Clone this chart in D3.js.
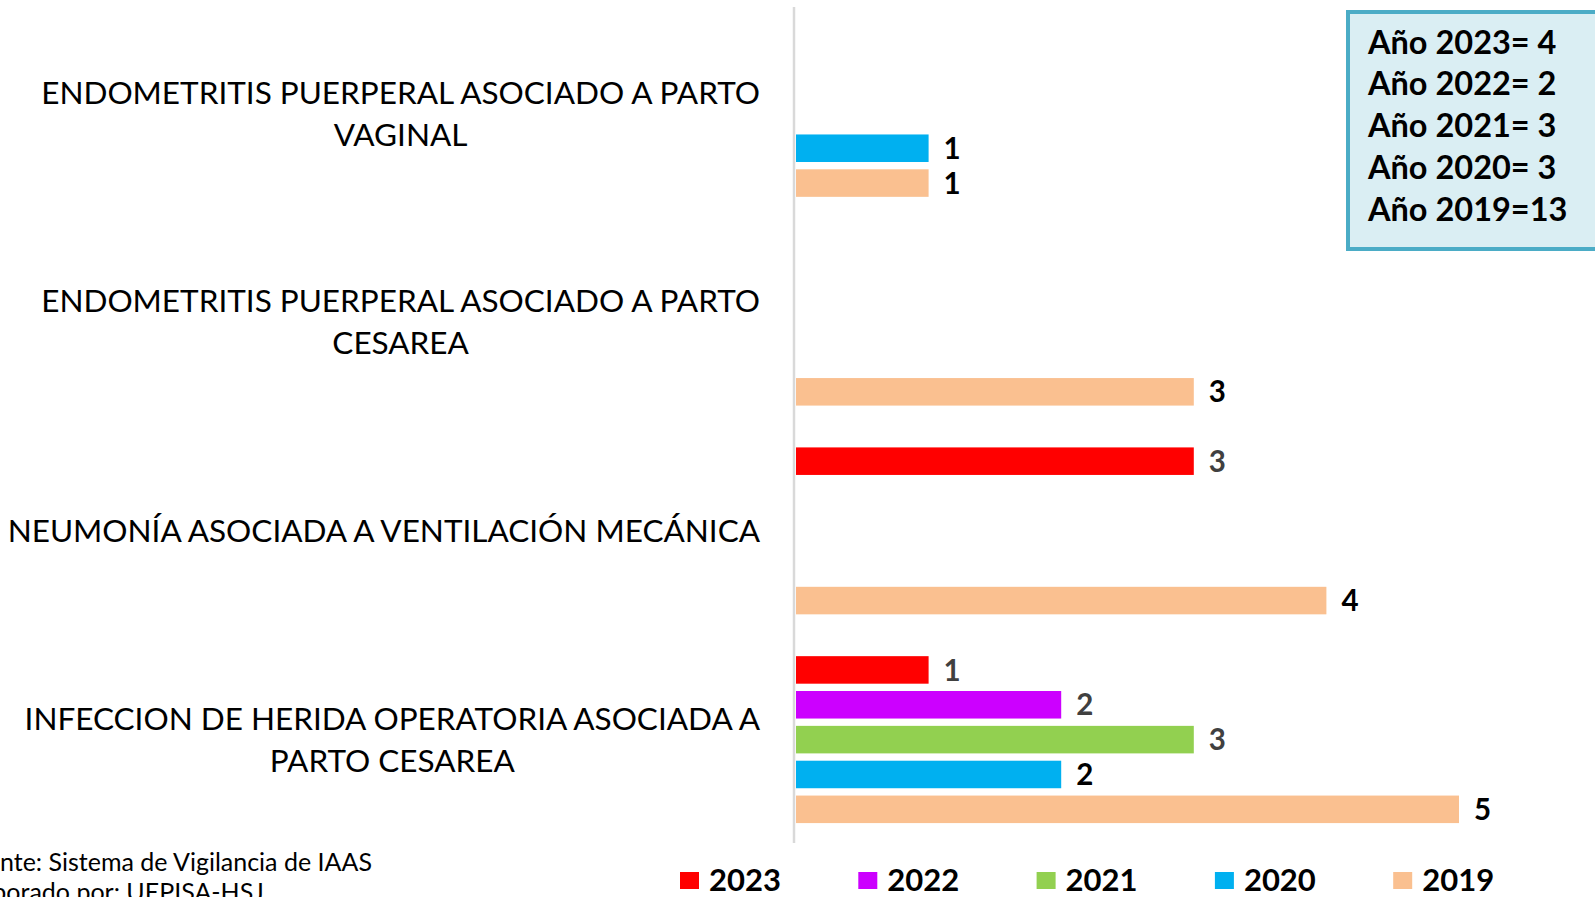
<!DOCTYPE html>
<html>
<head>
<meta charset="utf-8">
<script src="https://cdn.jsdelivr.net/npm/d3@7"></script>
<style>
  html, body { margin: 0; padding: 0; background: #fff; overflow: hidden; }
  svg { display: block; font-family: Lato, "Open Sans", sans-serif; }
</style>
</head>
<body>
<div id="chart"></div>
<script>
// categories, each split in the lines shown on the axis
const categories = ["vaginal", "cesarea", "neumonia", "herida"];
const categoryLines = [
  ["ENDOMETRITIS PUERPERAL ASOCIADO A PARTO", "VAGINAL"],
  ["ENDOMETRITIS PUERPERAL ASOCIADO A PARTO", "CESAREA"],
  ["NEUMONÍA ASOCIADA A VENTILACIÓN MECÁNICA"],
  ["INFECCION DE HERIDA OPERATORIA ASOCIADA A", "PARTO CESAREA"]
];
const years = ["2023", "2022", "2021", "2020", "2019"];
const v2023 = [null, null, 3, 1];
const v2022 = [null, null, null, 2];
const v2021 = [null, null, null, 3];
const v2020 = [1, null, null, 2];
const v2019 = [1, 3, 4, 5];
const seriesValues = [v2023, v2022, v2021, v2020, v2019];
const colors = ["#ff0000", "#cc00ff", "#92d050", "#00b0f0", "#fac090"];
const labelColors = ["#404040", "#404040", "#404040", "#000000", "#000000"];
const totalLines = ["Año 2023= 4", "Año 2022= 2", "Año 2021= 3", "Año 2020= 3", "Año 2019=13"];
const sourceLines = ["Fuente: Sistema de Vigilancia de IAAS", "Elaborado por: UEPISA-HSJ"];

const width = 1595, height = 897;
const svg = d3.select("#chart").append("svg")
  .attr("width", width)
  .attr("height", height);

const x = d3.scaleLinear().domain([0, 5]).range([796, 1459]);
const y = d3.scaleBand().domain(categories).range([9, 844]);
const yInner = d3.scaleBand().domain(years)
  .range([0, y.bandwidth()])
  .paddingInner(0.21)
  .paddingOuter(0.6);

// flat list of bars
const bars = [];
seriesValues.forEach((vals, si) => {
  vals.forEach((v, ci) => {
    if (v !== null) bars.push({ cat: categories[ci], year: years[si], value: v, si: si });
  });
});

// axis line
svg.append("line")
  .attr("x1", 794).attr("x2", 794)
  .attr("y1", 7).attr("y2", 843)
  .attr("stroke", "#d9d9d9")
  .attr("stroke-width", 2.5);

svg.selectAll("rect.bar")
  .data(bars)
  .enter()
  .append("rect")
  .attr("class", "bar")
  .attr("x", x(0))
  .attr("y", d => y(d.cat) + yInner(d.year))
  .attr("width", d => x(d.value) - x(0))
  .attr("height", yInner.bandwidth())
  .attr("fill", d => colors[d.si]);

svg.selectAll("text.val")
  .data(bars)
  .enter()
  .append("text")
  .attr("class", "val")
  .attr("x", d => x(d.value) + 15)
  .attr("y", d => y(d.cat) + yInner(d.year) + yInner.bandwidth() / 2)
  .attr("dy", "0.36em")
  .attr("font-size", 29.5)
  .attr("font-weight", "bold")
  .attr("fill", d => labelColors[d.si])
  .text(d => d.value);

// category labels, block right-aligned, lines centered in block
const labelRight = 760;
const lineGap = 42;
categories.forEach((c, i) => {
  const lines = categoryLines[i];
  const g = svg.append("g");
  const cy = y(c) + y.bandwidth() / 2;
  const texts = g.selectAll("text")
    .data(lines)
    .enter()
    .append("text")
    .attr("font-size", 31.5)
    .attr("fill", "#000")
    .attr("text-anchor", "middle")
    .attr("y", (d, j) => cy + (j - (lines.length - 1) / 2) * lineGap)
    .attr("dy", "0.36em")
    .text(d => d);
  let w = 0;
  texts.each(function() { w = Math.max(w, this.getComputedTextLength()); });
  texts.attr("x", labelRight - w / 2);
});

// totals box top right
svg.append("rect")
  .attr("x", 1348).attr("y", 12)
  .attr("width", 280).attr("height", 237)
  .attr("fill", "#daeef3")
  .attr("stroke", "#4bacc6")
  .attr("stroke-width", 4);

svg.selectAll("text.total")
  .data(totalLines)
  .enter()
  .append("text")
  .attr("class", "total")
  .attr("x", 1368)
  .attr("y", (d, i) => 42 + i * 41.7)
  .attr("dy", "0.36em")
  .attr("font-size", 32.5)
  .attr("font-weight", "bold")
  .attr("fill", "#000")
  .text(d => d);

// legend
const legend = svg.selectAll("g.legend")
  .data(years)
  .enter()
  .append("g")
  .attr("class", "legend")
  .attr("transform", (d, i) => `translate(${680 + i * 178.3}, 880)`);

legend.append("rect")
  .attr("x", 0).attr("y", -8)
  .attr("width", 19).attr("height", 17)
  .attr("fill", (d, i) => colors[i]);

legend.append("text")
  .attr("x", 29)
  .attr("y", 0)
  .attr("dy", "0.36em")
  .attr("font-size", 31)
  .attr("font-weight", "bold")
  .attr("fill", "#000")
  .text(d => d);

// source, cut at the left edge as in the picture
const src = svg.selectAll("text.src")
  .data(sourceLines)
  .enter()
  .append("text")
  .attr("class", "src")
  .attr("y", (d, i) => 862 + i * 30)
  .attr("dy", "0.36em")
  .attr("font-size", 25)
  .attr("fill", "#000")
  .text(d => d);

const probe = svg.append("text").attr("font-size", 25).text("Fue");
const cut = probe.node().getComputedTextLength();
probe.remove();
src.attr("x", -cut);
</script>
</body>
</html>
